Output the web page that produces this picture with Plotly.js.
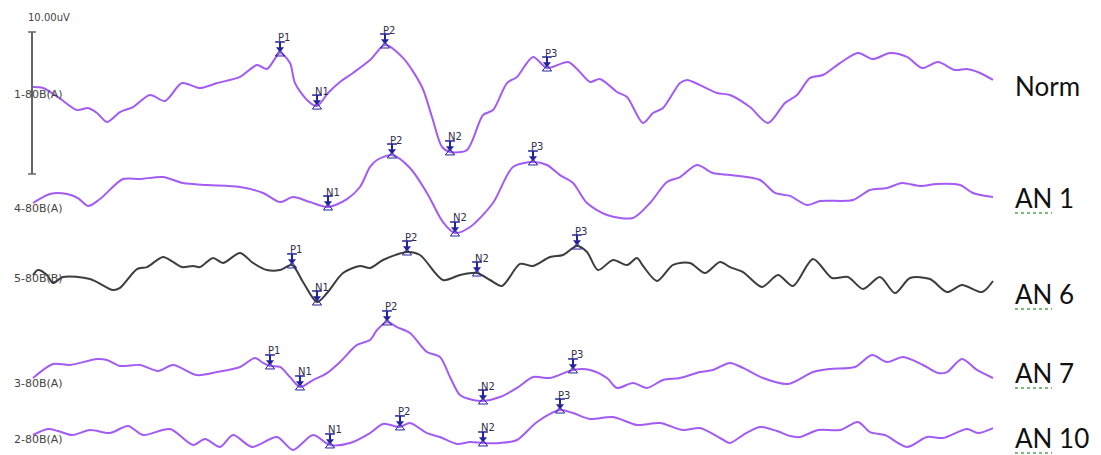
<!DOCTYPE html>
<html>
<head>
<meta charset="utf-8">
<script src="https://cdn.plot.ly/plotly-3.0.1.min.js"></script>
<style>
  html, body { margin: 0; padding: 0; background: #ffffff; }
  #plot { width: 1101px; height: 455px; }
</style>
</head>
<body>
<div id="plot"></div>
<script>
// Evoked response averages: time in ms, amplitude in µV.

const rowNames = ['Norm', 'AN 1', 'AN 6', 'AN 7', 'AN 10'];
const channelLabels = ['1-80B(A)', '4-80B(A)', '5-80B(B)', '3-80B(A)', '2-80B(A)'];
const scaleBarUv = 10;
const scaleBarLabel = '10.00uV';

const normT = [0,10,25,44,55,64,74,87,100,117,132,149,167,184,207,224,234,247,257,262,274,284,295,307,320,337,352,370,389,399,409,417,434,450,460,474,484,500,514,535,545,557,567,584,594,610,620,630,647,654,667,684,697,717,735,752,764,777,790,807,825,840,857,874,889,905,922,934,947,960];
const normV = [0.49,0.42,-0.21,-1.13,-0.99,-1.34,-1.97,-1.27,-0.92,-0.07,-0.49,0.77,0.42,0.77,1.20,2.04,1.76,2.89,2.18,0.77,-0.42,-0.85,0.07,0.85,1.48,2.39,3.45,2.54,0.49,-1.62,-3.73,-4.08,-3.94,-1.48,-1.13,0.77,1.20,2.61,1.83,2.25,1.69,0.85,1.06,0.14,-0.21,-2.04,-1.34,-0.99,0.77,0.99,0.63,0.07,-0.07,-0.92,-2.04,-0.63,-0.07,1.13,1.34,2.18,2.89,2.46,2.89,2.61,1.83,2.25,1.69,1.76,1.48,0.99];
const normPeakLabels = ['P1', 'N1', 'P2', 'N2', 'P3'];
const normPeakTimes = [247, 284, 352, 417, 514];

const an1T = [0,17,34,45,55,67,90,107,130,150,174,207,230,247,260,277,295,314,327,337,344,359,377,394,410,422,437,460,480,500,514,527,540,554,574,600,617,634,647,664,680,697,727,742,757,774,787,820,837,854,869,887,904,927,940,960];
const an1V = [0.35,0.99,0.99,0.70,0.14,0.63,2.04,2.04,2.18,1.76,1.62,1.48,1.06,0.42,0.77,0.42,0.07,0.63,1.48,2.89,3.38,3.73,2.82,1.06,-0.99,-1.76,-1.34,0.35,2.89,3.24,3.03,2.32,1.76,0.35,-0.49,-0.70,0.35,1.83,2.18,3.03,2.46,2.32,1.97,1.06,0.85,0.21,0.49,0.56,1.27,1.41,1.76,1.55,1.69,1.62,1.06,0.77];
const an1PeakLabels = ['N1', 'P2', 'N2', 'P3'];
const an1PeakTimes = [295, 359, 422, 500];

const an6T = [0,5,14,20,30,57,80,87,104,114,130,140,149,160,167,180,190,207,220,234,247,259,270,284,294,310,327,337,350,374,387,410,427,444,457,469,487,500,517,530,544,554,565,580,594,604,610,624,640,657,672,687,697,710,729,745,760,780,799,815,830,847,862,877,897,914,929,949,960];
const an6V = [0.21,0.56,0.21,-0.35,0.07,-0.07,-0.85,-0.70,0.63,0.77,1.48,1.13,0.77,0.85,0.77,1.41,1.06,1.76,1.06,0.56,0.56,0.92,-0.28,-1.69,-1.06,0.35,0.85,0.70,1.27,1.83,1.62,-0.14,0.21,0.35,-0.14,-0.56,0.99,0.85,1.48,1.62,2.25,1.83,0.56,1.27,0.92,1.41,0.85,-0.21,0.92,1.06,0.35,1.13,0.77,0.42,-0.63,0.21,-0.56,1.34,0.00,0.07,-0.77,0.07,-1.06,0.00,-0.07,-0.99,-0.49,-0.99,-0.21];
const an6PeakLabels = ['P1', 'N1', 'P2', 'N2', 'P3'];
const an6PeakTimes = [259, 284, 374, 444, 544];

const an7T = [0,20,37,64,74,87,107,125,140,164,184,207,222,230,237,247,257,267,280,294,307,324,337,344,354,364,377,394,407,417,427,440,450,467,484,500,517,540,557,574,584,600,614,630,647,667,680,697,710,730,755,780,797,822,839,854,870,890,905,914,929,944,960];
const an7V = [0.35,1.34,1.27,1.69,1.62,1.20,1.27,0.85,1.27,0.56,0.77,1.13,1.76,1.41,1.20,1.13,0.42,-0.28,0.21,0.70,1.48,2.68,3.03,3.73,4.30,3.94,3.52,2.18,1.83,0.42,-0.85,-1.20,-1.27,-0.99,-0.35,0.42,0.35,0.92,0.92,0.35,-0.35,0.00,-0.35,0.21,0.35,0.77,0.92,1.41,1.06,0.35,-0.07,0.77,0.99,1.13,1.97,1.48,1.83,1.27,0.70,0.77,1.69,0.92,0.35];
const an7PeakLabels = ['P1', 'N1', 'P2', 'N2', 'P3'];
const an7PeakTimes = [237, 267, 354, 450, 540];

const an10T = [0,15,25,39,57,77,95,110,137,160,172,187,200,219,244,260,280,297,317,337,350,367,377,394,407,424,437,450,467,484,504,527,540,557,580,604,627,650,667,687,697,710,727,744,757,767,785,807,825,837,852,874,894,910,934,945,960];
const an10V = [0.28,0.70,0.56,0.28,0.63,0.42,0.92,0.28,0.70,-0.42,0.00,-0.56,0.28,-0.56,0.14,-0.77,0.28,-0.42,-0.28,0.42,1.06,0.85,1.13,0.42,0.14,-0.35,-0.21,-0.28,-0.28,-0.07,1.20,2.04,1.83,1.41,1.55,0.99,1.13,0.63,0.77,0.07,-0.28,0.28,0.85,0.56,0.21,0.14,0.63,0.63,1.20,0.49,0.28,-0.56,0.14,0.07,0.70,0.42,0.77];
const an10PeakLabels = ['N1', 'P2', 'N2', 'P3'];
const an10PeakTimes = [297, 367, 450, 527];

// ---- layout constants ----
const W = 1101, H = 455;
const PX_PER_UV = 14.2;              // vertical gain: 10 µV spans 142 px
const X0 = 33;                       // pixel column of t = 0 ms (1 px per ms)
const px2y = p => -p / PX_PER_UV;    // pixel row -> y value
const px2x = p => p - X0;            // pixel column -> x value
const u = 1 / PX_PER_UV;             // one pixel in µV

const rowBaselinePx = [94, 208, 278, 383, 439];
const rowNameYPx = [86, 198, 294, 373, 438];
const rowColors = ['#a35cf2', '#a35cf2', '#3d3d3d', '#a35cf2', '#a35cf2'];
const markColor = '#23239b';
const peakTextColor = '#2e2e4a';

const rows = [
  { t: normT, v: normV, labels: normPeakLabels, times: normPeakTimes },
  { t: an1T,  v: an1V,  labels: an1PeakLabels,  times: an1PeakTimes },
  { t: an6T,  v: an6V,  labels: an6PeakLabels,  times: an6PeakTimes },
  { t: an7T,  v: an7V,  labels: an7PeakLabels,  times: an7PeakTimes },
  { t: an10T, v: an10V, labels: an10PeakLabels, times: an10PeakTimes }
];

function valueAt(ts, vs, t) {
  for (let i = 0; i < ts.length - 1; i++) {
    if (t >= ts[i] && t <= ts[i + 1]) {
      const f = (t - ts[i]) / (ts[i + 1] - ts[i]);
      return vs[i] + f * (vs[i + 1] - vs[i]);
    }
  }
  return vs[vs.length - 1];
}

const traces = [];
const annotations = [];
const shapes = [];

const stemX = [], stemY = [], headX = [], headY = [], barX = [], barY = [], chevX = [], chevY = [];

rows.forEach((row, r) => {
  const off = px2y(rowBaselinePx[r]);
  traces.push({
    type: 'scatter', mode: 'lines', name: rowNames[r],
    x: row.t, y: row.v.map(v => v + off),
    line: { color: rowColors[r], width: 2, shape: 'spline', smoothing: 0.8 },
    hoverinfo: 'skip'
  });

  row.times.forEach((t, i) => {
    const y0 = valueAt(row.t, row.v, t) + off;
    stemX.push(t, t, null);
    stemY.push(y0 + 11 * u, y0 + 5 * u, null);
    headX.push(t); headY.push(y0 + 4 * u);
    barX.push(t); barY.push(y0 + 11 * u);
    chevX.push(t); chevY.push(y0 - 1 * u);
    annotations.push({
      x: t, y: y0, xref: 'x', yref: 'y', text: row.labels[i], showarrow: false,
      xanchor: 'left', yanchor: 'middle', xshift: -4, yshift: 15,
      font: { family: 'DejaVu Sans, Arial, sans-serif', size: 10, color: peakTextColor }
    });
  });

  // channel label at the left edge
  annotations.push({
    x: px2x(12), y: off, xref: 'x', yref: 'y', text: channelLabels[r], showarrow: false,
    xanchor: 'left', yanchor: 'middle',
    font: { family: 'DejaVu Sans, Arial, sans-serif', size: 11, color: '#444444' }
  });

  // group name on the right
  annotations.push({
    x: px2x(1013), y: px2y(rowNameYPx[r]), xref: 'x', yref: 'y', text: rowNames[r], showarrow: false,
    xanchor: 'left', yanchor: 'middle',
    font: { family: 'Lato, Carlito, sans-serif', size: 26, color: '#111111' }
  });

  // dotted proofing underline under "AN"
  if (rowNames[r].startsWith('AN')) {
    const yl = px2y(Math.min(rowNameYPx[r] + 15, H - 2));
    shapes.push({
      type: 'line', xref: 'x', yref: 'y', x0: px2x(1015), x1: px2x(1052), y0: yl, y1: yl,
      line: { color: '#55a055', width: 1.5, dash: 'dot' }
    });
  }
});

traces.push({
  type: 'scatter', mode: 'lines', x: stemX, y: stemY, hoverinfo: 'skip',
  line: { color: markColor, width: 2 }, showlegend: false
});
traces.push({
  type: 'scatter', mode: 'markers', x: headX, y: headY, hoverinfo: 'skip',
  marker: { symbol: 'triangle-down', size: 7, color: markColor }, showlegend: false
});
traces.push({
  type: 'scatter', mode: 'markers', x: barX, y: barY, hoverinfo: 'skip',
  marker: { symbol: 'line-ew', size: 7, line: { color: markColor, width: 1.5 } }, showlegend: false
});
traces.push({
  type: 'scatter', mode: 'markers', x: chevX, y: chevY, hoverinfo: 'skip',
  marker: { symbol: 'triangle-up-open', size: 8, color: markColor, line: { color: markColor, width: 1 } },
  showlegend: false
});

// amplitude scale bar
const barTop = px2y(32);
const barBottom = barTop - scaleBarUv;
const barXPos = px2x(32);
shapes.push(
  { type: 'line', xref: 'x', yref: 'y', x0: barXPos, x1: barXPos, y0: barTop, y1: barBottom, line: { color: '#666666', width: 2 } },
  { type: 'line', xref: 'x', yref: 'y', x0: barXPos - 4, x1: barXPos + 4, y0: barTop, y1: barTop, line: { color: '#666666', width: 1.5 } },
  { type: 'line', xref: 'x', yref: 'y', x0: barXPos - 4, x1: barXPos + 4, y0: barBottom, y1: barBottom, line: { color: '#666666', width: 1.5 } }
);
annotations.push({
  x: px2x(26), y: px2y(17), xref: 'x', yref: 'y', text: scaleBarLabel, showarrow: false,
  xanchor: 'left', yanchor: 'middle',
  font: { family: 'DejaVu Sans, Arial, sans-serif', size: 10, color: '#444444' }
});

const layout = {
  width: W, height: H,
  margin: { l: 0, r: 0, t: 0, b: 0, pad: 0 },
  paper_bgcolor: '#ffffff', plot_bgcolor: '#ffffff',
  showlegend: false,
  xaxis: { range: [px2x(0), px2x(W)], visible: false, fixedrange: true },
  yaxis: { range: [px2y(H), px2y(0)], visible: false, fixedrange: true },
  annotations: annotations,
  shapes: shapes
};

Plotly.newPlot('plot', traces, layout, { staticPlot: true, displayModeBar: false });
</script>
</body>
</html>
